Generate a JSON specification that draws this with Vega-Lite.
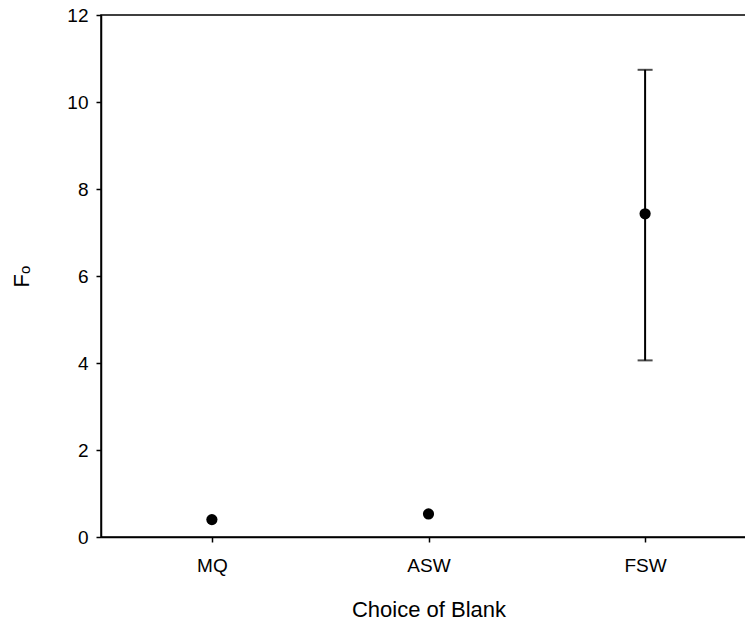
{
  "$schema": "https://vega.github.io/schema/vega-lite/v6.json",
  "autosize": "none",
  "padding": {"left": 101, "top": 15, "right": 0, "bottom": 91},
  "width": 655,
  "height": 522,
  "background": "white",
  "config": {
    "font": "Liberation Sans",
    "view": {"stroke": "black", "strokeWidth": 1.5},
    "axis": {
      "domainColor": "black",
      "domainWidth": 1.5,
      "tickColor": "black",
      "tickWidth": 1.5,
      "tickSize": 5,
      "grid": false,
      "labelFont": "Liberation Sans",
      "labelFontSize": 19,
      "labelColor": "black",
      "titleFont": "Liberation Sans",
      "titleFontSize": 22,
      "titleFontWeight": "normal",
      "titleColor": "black"
    }
  },
  "data": {
    "values": [
      {"blank": "MQ", "mean": 0.40, "lo": null, "hi": null},
      {"blank": "ASW", "mean": 0.53, "lo": null, "hi": null},
      {"blank": "FSW", "mean": 7.43, "lo": 4.06, "hi": 10.74}
    ]
  },
  "encoding": {
    "x": {
      "field": "blank",
      "type": "nominal",
      "sort": ["MQ", "ASW", "FSW"],
      "scale": {"type": "point", "padding": 0.512},
      "axis": {"title": "Choice of Blank", "labelAngle": 0, "labelPadding": 14, "titlePadding": 24}
    }
  },
  "layer": [
    {
      "mark": {"type": "rule", "color": "black", "strokeWidth": 2},
      "encoding": {
        "y": {"field": "lo", "type": "quantitative"},
        "y2": {"field": "hi"}
      }
    },
    {
      "mark": {"type": "tick", "color": "black", "size": 15, "thickness": 2, "orient": "horizontal"},
      "encoding": {"y": {"field": "hi", "type": "quantitative"}}
    },
    {
      "mark": {"type": "tick", "color": "black", "size": 15, "thickness": 2, "orient": "horizontal"},
      "encoding": {"y": {"field": "lo", "type": "quantitative"}}
    },
    {
      "mark": {"type": "point", "shape": "circle", "filled": true, "color": "black", "opacity": 1, "size": 125},
      "encoding": {
        "y": {
          "field": "mean",
          "type": "quantitative",
          "scale": {"domain": [0, 12], "nice": false, "zero": true},
          "axis": {
            "title": "F\u2092",
            "values": [0, 2, 4, 6, 8, 10, 12],
            "labelPadding": 8,
            "titlePadding": 33
          }
        }
      }
    }
  ]
}
